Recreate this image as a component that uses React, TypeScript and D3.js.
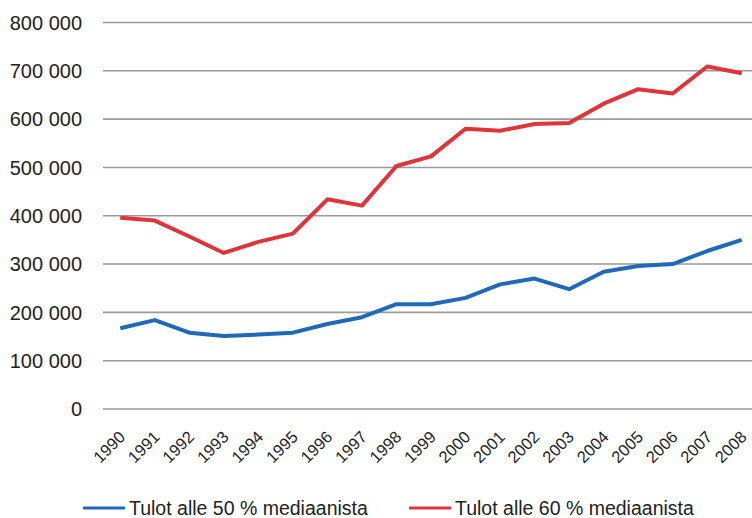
import React from 'react';
import * as d3 from 'd3';

const years = ['1990', '1991', '1992', '1993', '1994', '1995', '1996', '1997', '1998', '1999',
  '2000', '2001', '2002', '2003', '2004', '2005', '2006', '2007', '2008'];

// Tulot alle 50 % mediaanista
const below50 = [167000, 184000, 158000, 151000, 154000, 158000, 176000, 190000, 217000, 217000,
  230000, 258000, 270000, 248000, 284000, 296000, 300000, 327000, 350000];

// Tulot alle 60 % mediaanista
const below60 = [396000, 390000, 357000, 323000, 346000, 363000, 434000, 421000, 503000, 523000,
  580000, 576000, 590000, 592000, 632000, 662000, 653000, 709000, 695000];

const yTicks = [0, 100000, 200000, 300000, 400000, 500000, 600000, 700000, 800000];

const seriesNames = ['Tulot alle 50 % mediaanista', 'Tulot alle 60 % mediaanista'];
const colors = ['#2068b8', '#e0343a'];

const W = 752;
const H = 518;
const FONT = '"Liberation Sans", Arial, sans-serif';

const fmt = (v: number) => d3.format(',')(v).replace(/,/g, ' ');

const App: React.FC = () => {
  const x = d3.scaleBand<string>().domain(years).range([103, 759]);
  const y = d3.scaleLinear().domain([0, 800000]).range([409, 22.5]);
  const cx = (d: string) => (x(d) ?? 0) + x.bandwidth() / 2;

  const line = d3.line<number>()
    .x((_, i) => cx(years[i]))
    .y(d => y(d));

  const series = [below50, below60];

  return (
    <svg width={W} height={H} style={{ position: 'absolute', left: 0, top: 0, background: '#fff' }}
      fontFamily={FONT}>
      {yTicks.map(t => (
        <g key={t}>
          <line x1={103} x2={W} y1={y(t)} y2={y(t)} stroke="#9a9a9a" strokeWidth={1.6} />
          <text x={82} y={y(t)} dy="0.36em" textAnchor="end" fontSize={20} fill="#222">{fmt(t)}</text>
        </g>
      ))}
      {years.map(yr => (
        <text key={yr} transform={`translate(${cx(yr) + 6},${438}) rotate(-45)`}
          textAnchor="end" fontSize={16.5} fill="#222">{yr}</text>
      ))}
      {series.map((s, i) => (
        <path key={i} d={line(s) ?? ''} fill="none" stroke={colors[i]} strokeWidth={4}
          strokeLinejoin="round" />
      ))}
      {seriesNames.map((n, i) => {
        const lx = i === 0 ? 83 : 409;
        return (
          <g key={n}>
            <line x1={lx} x2={lx + 42} y1={508} y2={508} stroke={colors[i]} strokeWidth={3} />
            <text x={lx + 46} y={508} dy="0.36em" fontSize={19.5} fill="#222">{n}</text>
          </g>
        );
      })}
    </svg>
  );
};

export default App;
